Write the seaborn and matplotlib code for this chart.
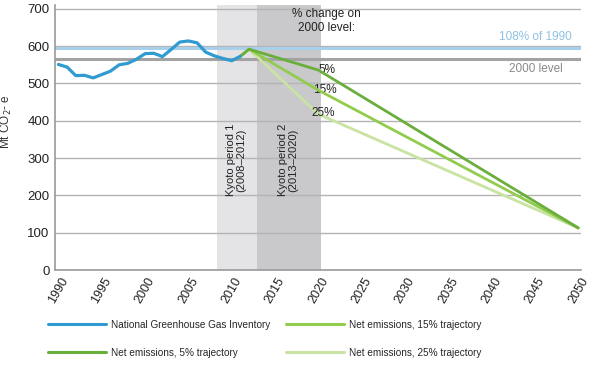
import numpy as np
import pandas as pd
import matplotlib
matplotlib.use('Agg')
import matplotlib.pyplot as plt
import seaborn as sns

sns.set_style('white')
plt.rcParams['font.family'] = ['Liberation Sans', 'DejaVu Sans']

# national inventory, 1990-2011
inv_years = list(range(1990, 2012))
inv_values = [551, 544, 521, 522, 515, 524, 533, 550, 554, 565, 580,
              581, 572, 591, 611, 614, 609, 584, 574, 567, 561, 573]

# trajectories: 2011, 2012, 2020, 2050
traj_years = [2011, 2012, 2020, 2050]
traj_5 = [573, 592, 536, 113]
traj_15 = [573, 592, 482, 113]
traj_25 = [573, 592, 418, 113]

level_108 = 595
level_2000 = 565

inv = pd.DataFrame({'year': inv_years, 'value': inv_values})
traj = pd.DataFrame({'year': traj_years * 3,
                     'value': traj_5 + traj_15 + traj_25,
                     'series': ['5%'] * 4 + ['15%'] * 4 + ['25%'] * 4})

c_blue = '#2f9bd0'
c5, c15, c25 = '#6aae3c', '#92cc4e', '#c9e3a2'

fig = plt.figure(figsize=(6.01, 3.66), dpi=100)
ax = fig.add_axes([0.0915, 0.262, 0.875, 0.724])

ax.axvspan(2008.3, 2012.9, color='#e4e4e6', lw=0, zorder=0)
ax.axvspan(2012.9, 2020.3, color='#c9c9cb', lw=0, zorder=0)

for v in range(100, 800, 100):
    ax.axhline(v, color='#b4b4b4', lw=1, zorder=1)
ax.axhline(level_108, color='#a9d0ea', lw=2.2, zorder=2)
ax.axhline(level_2000, color='#a3a3a3', lw=2.2, zorder=2)

sns.lineplot(data=traj[traj.series == '25%'], x='year', y='value', color=c25, lw=2,
             ax=ax, label='Net emissions, 25% trajectory', zorder=3)
sns.lineplot(data=traj[traj.series == '15%'], x='year', y='value', color=c15, lw=2,
             ax=ax, label='Net emissions, 15% trajectory', zorder=4)
sns.lineplot(data=traj[traj.series == '5%'], x='year', y='value', color=c5, lw=2,
             ax=ax, label='Net emissions, 5% trajectory', zorder=5)
sns.lineplot(data=inv, x='year', y='value', color=c_blue, lw=2.3,
             ax=ax, label='National Greenhouse Gas Inventory', zorder=6)

ax.set_xlim(1989.6, 2050.3)
ax.set_ylim(0, 710)
ax.set_xticks(range(1990, 2051, 5))
ax.set_xticklabels([str(y) for y in range(1990, 2051, 5)], rotation=60,
                   ha='center', fontsize=9, color='#222222')
ax.set_yticks(range(0, 701, 100))
ax.set_yticklabels([str(v) for v in range(0, 701, 100)], fontsize=9.5, color='#222222')
ax.tick_params(axis='both', length=0, pad=4)
ax.set_xlabel('')
ax.set_ylabel('Mt CO$_2$- e', fontsize=8.5, color='#333333')
ax.yaxis.set_label_coords(-0.077, 0.56)

for s in ['top', 'right']:
    ax.spines[s].set_visible(False)
ax.spines['left'].set_color('#9a9a9a')
ax.spines['bottom'].set_color('#9a9a9a')
ax.spines['left'].set_linewidth(1.2)
ax.spines['bottom'].set_linewidth(1.2)

ax.text(2010.5, 392, 'Kyoto period 1\n(2008–2012)', rotation=90, ha='center',
        va='top', fontsize=8, color='#222222', linespacing=1.1)
ax.text(2016.5, 392, 'Kyoto period 2\n(2013–2020)', rotation=90, ha='center',
        va='top', fontsize=8, color='#222222', linespacing=1.1)
ax.text(2020.9, 703, '% change on\n2000 level:', ha='center', va='top', fontsize=8.5,
        color='#222222', linespacing=1.2)
ax.text(2049.3, 625, '108% of 1990', ha='right', va='center', fontsize=8.5, color='#8fc1e4')
ax.text(2048.2, 538, '2000 level', ha='right', va='center', fontsize=8.5, color='#8a8a8a')
ax.text(2020.0, 536, '5%', ha='left', va='center', fontsize=8.5, color='#222222')
ax.text(2019.4, 483, '15%', ha='left', va='center', fontsize=8.5, color='#222222')
ax.text(2019.2, 420, '25%', ha='left', va='center', fontsize=8.5, color='#222222')

h, l = ax.get_legend_handles_labels()
ax.get_legend().remove()
order = [3, 2, 1, 0]
leg = fig.legend([h[i] for i in order], [l[i] for i in order], ncol=2,
                 loc='center left', bbox_to_anchor=(0.065, 0.074), frameon=False,
                 fontsize=7.2, handlelength=5.8, handletextpad=0.5,
                 columnspacing=1.6, labelspacing=1.8)
for line in leg.get_lines():
    line.set_linewidth(2.2)

fig.savefig('out.png', dpi=100)
